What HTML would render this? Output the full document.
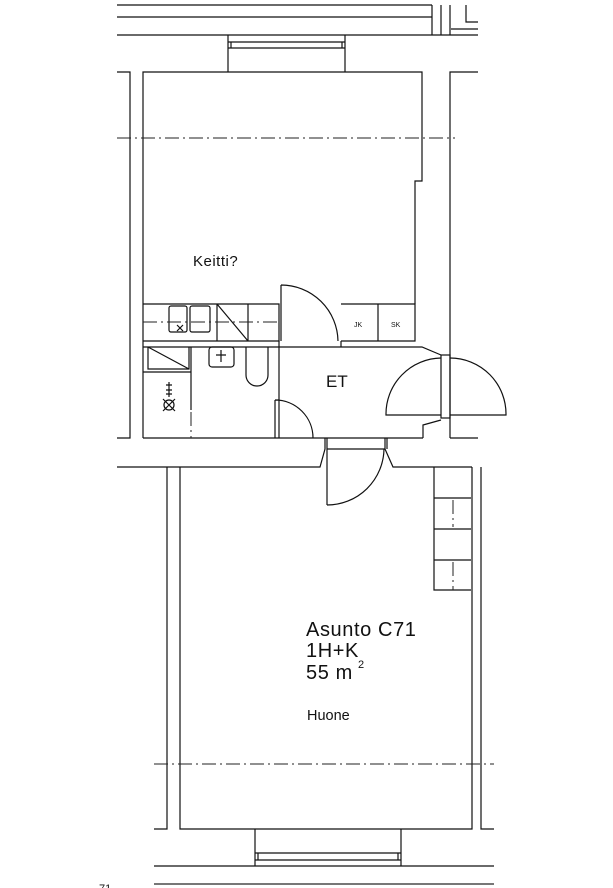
<!DOCTYPE html>
<html><head><meta charset="utf-8"><style>
html,body{margin:0;padding:0;background:#fff;width:613px;height:888px;overflow:hidden}
svg{display:block}
text{font-family:"Liberation Sans",sans-serif;fill:#111}
</style></head><body>
<svg width="613" height="888" viewBox="0 0 613 888" xmlns="http://www.w3.org/2000/svg">
<g stroke="#111" stroke-width="1.2" fill="none">
<path d="M117 5H432M117 17H432M117 35H478M432 5V35M441 5V35M450 5V35M466 5V22H478M451 29H478"/>
<path d="M228 35V72M345 35V72M228 42H345M228 48H345M231 42V48M342 42V48"/>
<path d="M117 72H130V438H117M143 438V72H422V181H415V304M450 438V72H478"/>
<path d="M450 438H478M143 438H423"/>
<path d="M143 304H279V341H143M341 304H415V341H341M378 304V341M217 304V341M248 304V341M217 304L248 341"/>
<rect x="169" y="306" width="18" height="26" rx="2"/>
<rect x="190" y="306" width="20" height="26" rx="2"/>
<path d="M177 325L183 331M183 325L177 331"/>
<path d="M279 341V347M281 285V341M281 285A57 57 0 0 1 338 341M341 341V347"/>
<path d="M143 347H422L441 355M441 420L423 425V438"/>
<path d="M279 347V438M148 347V369H189V347M148 347L189 369M143 372H191M191 347V410"/>
<rect x="209" y="347" width="25" height="20" rx="3"/>
<path d="M221 350V362M216 355H226"/>
<path d="M246 347V375A11 11 0 0 0 268 375V347"/>
<path d="M275 400V438M275 400H279M275 400A38 38 0 0 1 313 438"/>
<path d="M163 399L175 411M175 399L163 411"/><circle cx="169" cy="405" r="5"/>
<path d="M169 382V397M166 385H172M166 390H172M166 394H172"/>
<rect x="441" y="355" width="9" height="63"/>
<path d="M441 358A56 56 0 0 0 386 415H441M450 358A56 56 0 0 1 506 415H450"/>
<path d="M117 467H320L325 449V438M327 438V505M327 449H385M385 438V449L393 467H472M387 438V449"/>
<path d="M327 505A57 57 0 0 0 384 449"/>
<path d="M434 467V590H471M434 498H471M434 529H471M434 560H471"/>
<path d="M167 467V829H154M180 467V829H472V467M481 467V829H494"/>
<path d="M255 829V866M401 829V866M255 853H401M255 860H401M258 853V860M398 853V860M154 866H494"/>
</g>
<path d="M154 884H494" stroke="#777" stroke-width="2"/>
<g stroke="#222" stroke-width="1" stroke-dasharray="14,4,2,4" fill="none">
<path d="M117 138H455M143 322H279M154 764H494M453 500V527M453 562V590M191 412V438"/>
</g>
<text x="193" y="266" font-size="15" letter-spacing="0.5">Keitti?</text>
<text x="326" y="387" font-size="17">ET</text>
<text x="354" y="327" font-size="7">JK</text>
<text x="391" y="327" font-size="7">SK</text>
<text x="306" y="636" font-size="20" letter-spacing="0.6">Asunto C71</text>
<text x="306" y="657" font-size="20" letter-spacing="0.6">1H+K</text>
<text x="306" y="679" font-size="20" letter-spacing="0.6">55 m</text>
<text x="358" y="668" font-size="11">2</text>
<text x="307" y="720" font-size="14.5">Huone</text>
<text x="99" y="892" font-size="11">71</text>
</svg>
</body></html>
